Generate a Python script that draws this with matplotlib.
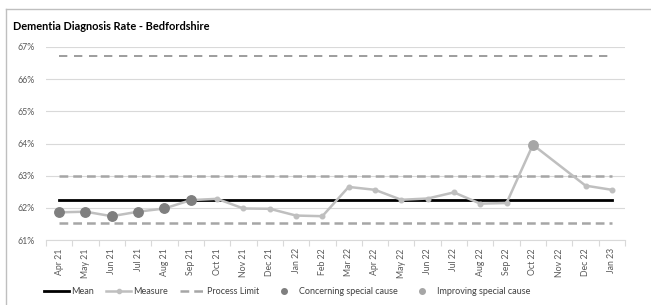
import numpy as np
import matplotlib
matplotlib.use("Agg")
import matplotlib.pyplot as plt
from matplotlib.lines import Line2D

plt.rcParams['font.family'] = ['Lato', 'DejaVu Sans']

months = ["Apr 21", "May 21", "Jun 21", "Jul 21", "Aug 21", "Sep 21", "Oct 21", "Nov 21",
          "Dec 21", "Jan 22", "Feb 22", "Mar 22", "Apr 22", "May 22", "Jun 22", "Jul 22",
          "Aug 22", "Sep 22", "Oct 22", "Nov 22", "Dec 22", "Jan 23"]
measure = [61.86, 61.88, 61.74, 61.88, 61.98, 62.24, 62.28, 61.98, 61.97, 61.76, 61.74,
           62.65, 62.56, 62.25, 62.29, 62.48, 62.13, 62.15, 63.96, None, 62.69, 62.56]
concerning_idx = [0, 1, 2, 3, 4, 5]
improving_idx = [18]
mean_val = 62.25
upper_pl = 62.98
lower_pl = 61.52
upper_pl_outer = 66.72
yticks = [61, 62, 63, 64, 65, 66, 67]
title = "Dementia Diagnosis Rate - Bedfordshire"
legend_labels = ["Mean", "Measure", "Process Limit", "Concerning special cause",
                 "Improving special cause"]

W, H = 651, 305
fig = plt.figure(figsize=(W / 100, H / 100), dpi=100)
ax = fig.add_axes([46 / W, 1 - 240 / H, (625 - 46) / W, (240 - 47) / H])

x = np.arange(len(months))
xs = [i for i, v in enumerate(measure) if v is not None]
ys = [v for v in measure if v is not None]

first, last = x[0], x[-1]
c_pl = "#A6A6A6"
c_meas = "#BFBFBF"
c_conc = "#7F7F7F"
c_imp = "#A6A6A6"
pl_ls = (0, (3.5, 2))
ax.plot([first, last], [upper_pl_outer] * 2, color="#8C8C8C", lw=1.2, ls=(0, (5, 4)))
ax.plot([first, last], [upper_pl] * 2, color=c_pl, lw=1.8, ls=pl_ls)
ax.plot([first, last], [lower_pl] * 2, color=c_pl, lw=1.8, ls=pl_ls)
ax.plot([first, last], [mean_val] * 2, color="black", lw=2, zorder=3)
ax.plot(xs, ys, color=c_meas, lw=1.8, marker="o", ms=3.3, mfc=c_meas, mec=c_meas, zorder=4)
ax.plot([x[i] for i in concerning_idx], [measure[i] for i in concerning_idx], ls="none",
        marker="o", ms=6.8, color=c_conc, zorder=5)
ax.plot([x[i] for i in improving_idx], [measure[i] for i in improving_idx], ls="none",
        marker="o", ms=6.8, color=c_imp, zorder=5)

ax.set_xlim(-0.5, len(months) - 0.5)
ax.set_ylim(61, 67)
ax.set_yticks(yticks)
ax.set_yticklabels([f"{v}%" for v in yticks], fontsize=6.3, color="#595959")
ax.set_xticks(x)
ax.set_xticklabels(months, rotation=90, fontsize=6.3, color="#595959")
ax.set_xticks(np.arange(-0.5, len(months), 1), minor=True)
ax.tick_params(axis="x", which="major", length=0, pad=6)
ax.tick_params(axis="x", which="minor", length=4, color="#D9D9D9", width=0.8)
ax.tick_params(axis="y", length=0, pad=8)
ax.grid(axis="y", color="#D9D9D9", lw=0.8)
ax.set_axisbelow(True)
for s in ["top", "right", "left"]:
    ax.spines[s].set_visible(False)
ax.spines["bottom"].set_color("#D9D9D9")
ax.spines["bottom"].set_linewidth(0.8)

fig.text(13 / W, 1 - 27 / H, title, fontsize=7.9, fontweight="bold", va="center",
         ha="left", color="black")

handles = [
    Line2D([], [], color="black", lw=2),
    Line2D([], [], color=c_meas, lw=1.8, marker="o", ms=3, mfc=c_meas, mec=c_meas),
    Line2D([], [], color=c_pl, lw=1.8, ls=pl_ls),
    Line2D([], [], ls="none", marker="o", ms=4, color=c_conc),
    Line2D([], [], ls="none", marker="o", ms=4, color=c_imp),
]
leg = fig.legend(handles, legend_labels, loc="center", ncol=5,
                 bbox_to_anchor=(287 / W, 1 - 292 / H), frameon=False, fontsize=6.5,
                 handlelength=2.8, columnspacing=1.35, handletextpad=0.2)
for t in leg.get_texts():
    t.set_color("#404040")

fig.add_artist(Line2D([5.5 / W, 5.5 / W], [0, 1 - 8.5 / H], color="#BFBFBF", lw=1,
                      transform=fig.transFigure))
fig.add_artist(Line2D([5.5 / W, 1], [1 - 8.5 / H, 1 - 8.5 / H], color="#BFBFBF", lw=1,
                      transform=fig.transFigure))

fig.savefig("out.png", dpi=100)
